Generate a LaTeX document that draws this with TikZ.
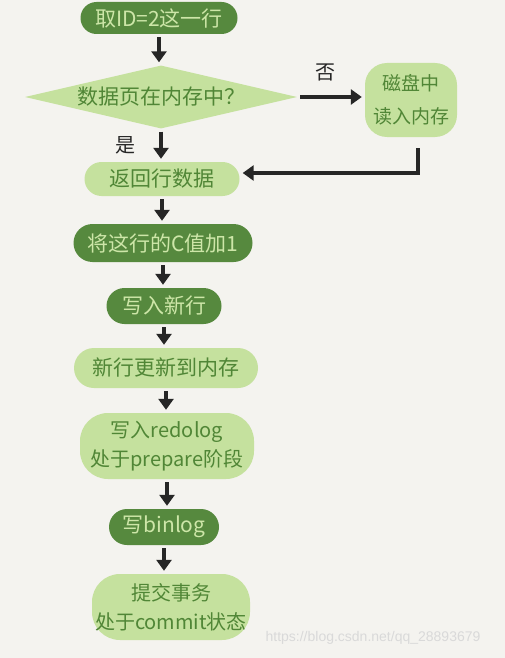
\documentclass[tikz,border=0pt]{standalone}
\usepackage{fontspec}
\newfontfamily\cjk{Noto Sans CJK SC}
\newfontfamily\wmfont{Liberation Sans}
\usetikzlibrary{shapes.geometric,shapes.misc}
\usetikzlibrary{arrows.meta}
\usepackage{xcolor}
\definecolor{paper}{RGB}{244,243,239}
\definecolor{leafdark}{RGB}{86,137,62}
\definecolor{leaflight}{RGB}{197,225,158}
\definecolor{inkdark}{RGB}{80,134,54}
\definecolor{inklight}{RGB}{205,230,168}

\begin{document}
\begin{tikzpicture}[x=1pt,y=-1pt,
  darkbox/.style={rounded rectangle, fill=leafdark, text=inklight, inner sep=0pt, font=\cjk\fontsize{21}{24}\selectfont},
  lightbox/.style={rounded rectangle, fill=leaflight, text=inkdark, inner sep=0pt, align=center, font=\cjk\fontsize{21}{29}\selectfont},
  blob/.style={rectangle, rounded corners=28pt, fill=leaflight, text=inkdark, inner sep=0pt, align=center, font=\cjk\fontsize{20}{29}\selectfont},
  flow/.style={line width=3.5pt, black!85, -{Triangle[width=15pt,length=11pt]}, shorten <=3pt, shorten >=3pt},
  tag/.style={font=\cjk\fontsize{20}{24}\selectfont, text=black!85}
]
\fill[paper] (0,0) rectangle (505,658);
\useasboundingbox (0,0) rectangle (505,658);

% main column
\node[darkbox, minimum width=157pt, minimum height=32pt] (fetch) at (159,18) {取ID=2这一行};
\node[diamond, fill=leaflight, text=inkdark, inner sep=0pt, aspect=4.3, minimum width=272pt, minimum height=63pt, font=\cjk\fontsize{21}{24}\selectfont] (inmem) at (161,97) {数据页在内存中？};
\node[blob, rounded corners=22pt, minimum width=92pt, minimum height=74pt, font=\cjk\fontsize{19}{33}\selectfont] (disk) at (411,100) {磁盘中\\读入内存};
\node[lightbox, minimum width=155pt, minimum height=34pt] (rowdata) at (162,179) {返回行数据};
\node[darkbox, minimum width=179pt, minimum height=38pt] (addc) at (163,243) {将这行的C值加1};
\node[darkbox, minimum width=115pt, minimum height=36pt] (newrow) at (164,306) {写入新行};
\node[lightbox, minimum width=184pt, minimum height=40pt] (memupd) at (166,368) {新行更新到内存};
\node[blob, minimum width=174pt, minimum height=66pt] (redo) at (167,446) {写入redolog\\处于prepare阶段};
\node[darkbox, minimum width=110pt, minimum height=36pt] (binlog) at (164,527) {写binlog};
\node[blob, minimum width=158pt, minimum height=66pt] (commit) at (171,607) {提交事务\\处于commit状态};

% labels
\node[tag] (no) at (325,72) {否};
\node[tag] (yes) at (125,145) {是};

% arrows
\draw[flow] (fetch.south) -- (fetch.south |- inmem.north);
\draw[flow] (inmem.east) -- (inmem.east -| disk.west);
\draw[flow] (inmem.south) -- (inmem.south |- rowdata.north);
\coordinate (diskout) at ([xshift=7pt]disk.south);
\coordinate (rowin) at ([yshift=6pt]rowdata.east);
\coordinate (bend) at (diskout |- rowin);
\draw[line width=3.5pt, black!85, shorten <=13pt, line cap=rect] (diskout) -- (bend);
\draw[flow, shorten <=0pt] (bend) -- (rowin);
\draw[flow] (rowdata.south) -- (rowdata.south |- addc.north);
\draw[flow] (addc.south) -- (addc.south |- newrow.north);
\draw[flow] (newrow.south) -- (newrow.south |- memupd.north);
\draw[flow] (memupd.south) -- (memupd.south |- redo.north);
\draw[flow] (redo.south) -- (redo.south |- binlog.north);
\draw[flow] (binlog.south) -- (binlog.south |- commit.north);

% watermark
\node[text=black!15, font=\wmfont\fontsize{14}{16}\selectfont] (mark) at (373,638) {https://blog.csdn.net/qq\_28893679};
\end{tikzpicture}
\end{document}
